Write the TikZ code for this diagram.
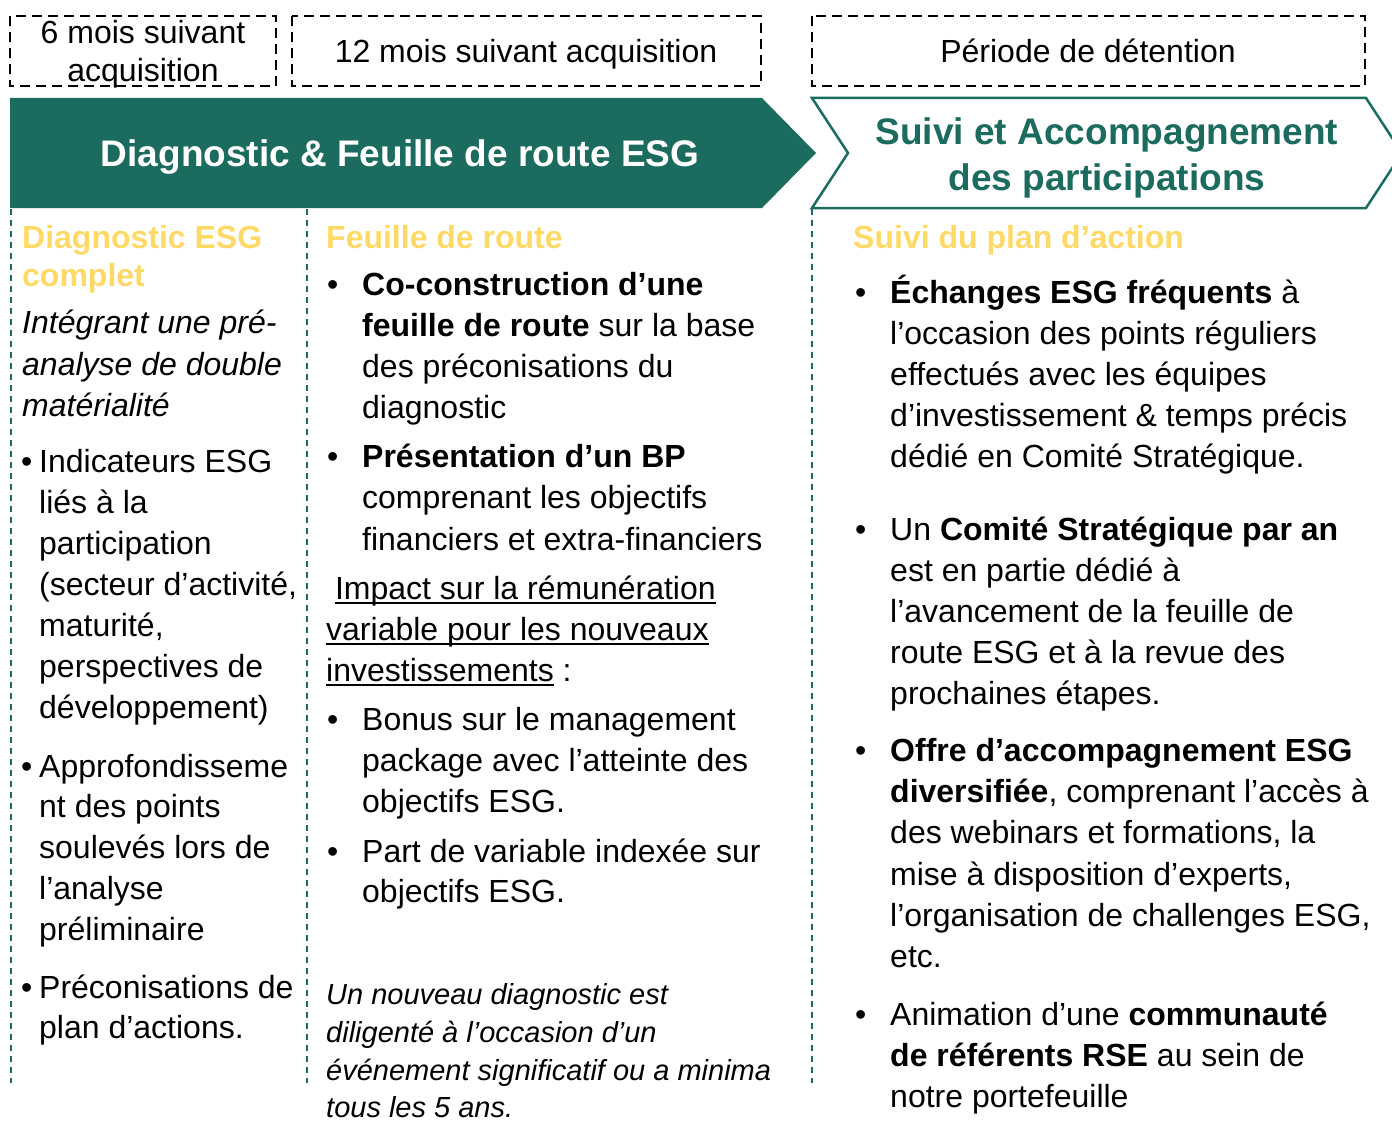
\documentclass[tikz,border=0pt]{standalone}
\usepackage{fontspec}
\setmainfont{Liberation Sans}
\definecolor{esggreen}{HTML}{1B6B5E}
\definecolor{esgyellow}{HTML}{FFD966}
\newsavebox\ulbox
\newcommand\myul[1]{\sbox\ulbox{#1}\rlap{\rule[-4.5pt]{\wd\ulbox}{1.8pt}}\usebox\ulbox}
\newcounter{tl}
\newcommand\TL[4][txt]{\stepcounter{tl}\node[#1] (n\arabic{tl}) at (#2,#3) {#4};}
\begin{document}
\begin{tikzpicture}[x=1pt,y=-1pt,
  txt/.style={anchor=base west, inner sep=0pt, font=\fontsize{32}{38}\selectfont},
  ctxt/.style={anchor=base, inner sep=0pt, font=\fontsize{32}{38}\selectfont},
  head/.style={txt, font=\fontsize{32}{38}\selectfont\bfseries, text=esgyellow},
  ital/.style={txt, font=\fontsize{32}{38}\selectfont\itshape},
  note/.style={txt, font=\fontsize{29}{36}\selectfont\itshape},
  title/.style={anchor=base, inner sep=0pt, font=\fontsize{37}{44}\selectfont\bfseries},
  periodbox/.style={draw=black, line width=2.6pt, dash pattern=on 10pt off 6pt},
  coldash/.style={draw=esggreen, line width=1.8pt, dash pattern=on 6pt off 5pt}
]
\useasboundingbox (0,0) rectangle (1392,1121);

% period boxes
\draw[periodbox] (10,16) rectangle (276,86);
\draw[periodbox] (292,16) rectangle (761,86);
\draw[periodbox] (812,16) rectangle (1365,86);
\node[ctxt] (p1a) at (143,44) {6 mois suivant};
\node[ctxt] (p1b) at (143,82) {acquisition};
\node[ctxt] (p2) at (526,63) {12 mois suivant acquisition};
\node[ctxt] (p3) at (1088,63) {Période de détention};

% arrows
\fill[esggreen] (10,98) -- (762,98) -- (816,153) -- (762,208) -- (10,208) -- cycle;
\draw[esggreen, line width=2.5pt, fill=white, line join=miter]
  (812,98) -- (1366,98) -- (1402,153) -- (1366,208) -- (812,208) -- (848,153) -- cycle;
\node[title, text=white] (ta) at (400,167) {Diagnostic \& Feuille de route ESG};
\node[title, text=esggreen] (tb1) at (1107,145) {Suivi et Accompagnement};
\node[title, text=esggreen] (tb2) at (1107,190) {des participations};

% column separators
\draw[coldash] (11,209) -- (11,1083);
\draw[coldash] (307,209) -- (307,1083);
\draw[coldash] (812,209) -- (812,1083);

% column 1
\TL[head]{22}{248}{Diagnostic ESG}
\TL[head]{22}{286}{complet}
\TL[ital]{22}{333}{Intégrant une pré-}
\TL[ital]{22}{375}{analyse de double}
\TL[ital]{22}{416}{matérialité}
\TL{21}{472}{•}
\TL{39}{472}{Indicateurs ESG}
\TL{39}{513}{liés à la}
\TL{39}{554}{participation}
\TL{39}{595}{(secteur d’activité,}
\TL{39}{636}{maturité,}
\TL{39}{677}{perspectives de}
\TL{39}{718}{développement)}
\TL{21}{777}{•}
\TL{39}{777}{Approfondisseme}
\TL{39}{817}{nt des points}
\TL{39}{858}{soulevés lors de}
\TL{39}{899}{l’analyse}
\TL{39}{940}{préliminaire}
\TL{21}{998}{•}
\TL{39}{998}{Préconisations de}
\TL{39}{1038}{plan d’actions.}

% column 2
\TL[head]{326}{248}{Feuille de route}
\TL{327}{295}{•}
\TL{362}{295}{\bfseries Co-construction d’une}
\TL{362}{336}{{\bfseries feuille de route} sur la base}
\TL{362}{377}{des préconisations du}
\TL{362}{418}{diagnostic}
\TL{327}{467}{•}
\TL{362}{467}{\bfseries Présentation d’un BP}
\TL{362}{508}{comprenant les objectifs}
\TL{362}{550}{financiers et extra-financiers}
\TL{326}{599}{\ \myul{Impact sur la rémunération}}
\TL{326}{640}{\myul{variable pour les nouveaux}}
\TL{326}{681}{\myul{investissements} :}
\TL{327}{730}{•}
\TL{362}{730}{Bonus sur le management}
\TL{362}{771}{package avec l’atteinte des}
\TL{362}{812}{objectifs ESG.}
\TL{327}{862}{•}
\TL{362}{862}{Part de variable indexée sur}
\TL{362}{902}{objectifs ESG.}
\TL[note]{326}{1004}{Un nouveau diagnostic est}
\TL[note]{326}{1042}{diligenté à l’occasion d’un}
\TL[note]{326}{1080}{événement significatif ou a minima}
\TL[note]{326}{1117}{tous les 5 ans.}

% column 3
\TL[head]{853}{248}{Suivi du plan d’action}
\TL{855}{303}{•}
\TL{890}{303}{{\bfseries Échanges ESG fréquents} à}
\TL{890}{344}{l’occasion des points réguliers}
\TL{890}{385}{effectués avec les équipes}
\TL{890}{426}{d’investissement \& temps précis}
\TL{890}{467}{dédié en Comité Stratégique.}
\TL{855}{540}{•}
\TL{890}{540}{Un {\bfseries Comité Stratégique par an}}
\TL{890}{581}{est en partie dédié à}
\TL{890}{622}{l’avancement de la feuille de}
\TL{890}{663}{route ESG et à la revue des}
\TL{890}{704}{prochaines étapes.}
\TL{855}{761}{•}
\TL{890}{761}{\bfseries Offre d’accompagnement ESG}
\TL{890}{802}{{\bfseries diversifiée}, comprenant l’accès à}
\TL{890}{843}{des webinars et formations, la}
\TL{890}{885}{mise à disposition d’experts,}
\TL{890}{926}{l’organisation de challenges ESG,}
\TL{890}{967}{etc.}
\TL{855}{1025}{•}
\TL{890}{1025}{Animation d’une {\bfseries communauté}}
\TL{890}{1066}{{\bfseries de référents RSE} au sein de}
\TL{890}{1107}{notre portefeuille}
\end{tikzpicture}
\end{document}
